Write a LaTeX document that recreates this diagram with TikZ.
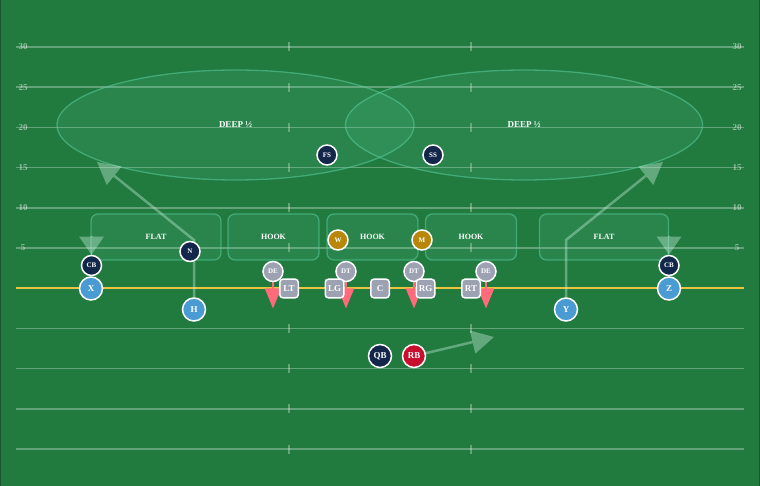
\documentclass[tikz,border=0pt]{standalone}
\usepackage{fontspec}
\setmainfont{Liberation Serif}
\usetikzlibrary{arrows.meta,shapes.geometric,positioning}

\definecolor{turf}{RGB}{33,122,62}
\definecolor{turfedge}{RGB}{24,88,44}
\definecolor{scrim}{RGB}{236,196,64}
\definecolor{mint}{RGB}{90,205,160}
\definecolor{navy}{RGB}{19,39,74}
\definecolor{offblue}{RGB}{74,155,212}
\definecolor{linegray}{RGB}{156,162,178}
\definecolor{gold}{RGB}{184,134,11}
\definecolor{rbred}{RGB}{200,16,46}
\definecolor{rushpink}{RGB}{255,107,122}
\definecolor{routemint}{RGB}{200,240,220}

\pgfdeclarelayer{field}
\pgfdeclarelayer{paths}
\pgfsetlayers{field,paths,main}

\tikzset{
    yardline/.style={white, opacity=0.3, line width=1.5pt},
    yardnum/.style={text=white, opacity=0.5, font=\bfseries\fontsize{9}{9}\selectfont, inner sep=0pt},
    zonebox/.style={draw=mint, draw opacity=0.55, fill=mint, fill opacity=0.14, line width=1.3pt,
        rounded corners=7pt, text=white, text opacity=1, font=\bfseries\fontsize{8}{8}\selectfont},
    deepzone/.style={zonebox, ellipse, rounded corners=0pt, font=\bfseries\fontsize{9}{9}\selectfont},
    defender/.style={circle, draw=white, line width=1.5pt, fill=navy, text=white, inner sep=0pt,
        minimum size=20pt, font=\bfseries\fontsize{7}{7}\selectfont},
    dline/.style={defender, fill=linegray},
    lb/.style={defender, fill=gold},
    skill/.style={defender, fill=offblue, minimum size=23pt, font=\bfseries\fontsize{9}{9}\selectfont},
    oline/.style={rectangle, rounded corners=3pt, draw=white, line width=1.5pt, fill=linegray, text=white,
        inner sep=0pt, minimum size=18.5pt, font=\bfseries\fontsize{9}{9}\selectfont},
    route/.style={routemint, line width=2.5pt, -{Triangle[length=22pt, width=23pt]}},
    rush/.style={rushpink, line width=2pt, -{Triangle[length=20pt, width=16pt]}},
}

\begin{document}
\begin{tikzpicture}[x=1pt, y=-1pt]
    \useasboundingbox (0,0) rectangle (760,486);

    \begin{pgfonlayer}{field}
    \fill[turf] (0,0) rectangle (760,486);
    \draw[turfedge, line width=2pt] (0,0) -- (0,486) (760,0) -- (760,486);

    % yard lines and hashes
    \foreach \i in {0,...,10} {
        \draw[yardline] (16,{47+40.2*\i}) -- (744,{47+40.2*\i});
        \draw[yardline] (289,{42.5+40.2*\i}) -- (289,{51.5+40.2*\i});
        \draw[yardline] (471,{42.5+40.2*\i}) -- (471,{51.5+40.2*\i});
    }
    \foreach \n [count=\i from 0] in {30,25,20,15,10,5} {
        \node[yardnum] (numL\n) at (23,{47+40.2*\i}) {\n};
        \node[yardnum] (numR\n) at (737,{47+40.2*\i}) {\n};
    }
    \draw[scrim, line width=2pt] (16,288.2) -- (744,288.2);

    % coverage zones
    \node[deepzone, minimum width=357, minimum height=110] (deepL) at (235.5,125) {DEEP ½};
    \node[deepzone, minimum width=357, minimum height=110] (deepR) at (524,125) {DEEP ½};
    \node[zonebox, minimum width=130, minimum height=46] (flatL) at (156,237) {FLAT};
    \node[zonebox, minimum width=91, minimum height=46] (hookL) at (273.5,237) {HOOK};
    \node[zonebox, minimum width=91, minimum height=46] (hookM) at (372.5,237) {HOOK};
    \node[zonebox, minimum width=91, minimum height=46] (hookR) at (471,237) {HOOK};
    \node[zonebox, minimum width=129, minimum height=46] (flatR) at (604,237) {FLAT};
    \end{pgfonlayer}

    % defense
    \node[defender] (fs) at (327,155) {FS};
    \node[defender] (ss) at (433,155) {SS};
    \node[lb] (w) at (338,240) {W};
    \node[lb] (m) at (422,240) {M};
    \node[defender] (n) at (190,251.5) {N};
    \node[defender] (cbL) at (91.5,265.5) {CB};
    \node[defender] (cbR) at (669,265.5) {CB};
    \node[dline] (deL) at (273,271.5) {DE};
    \node[dline] (dtL) at (346,271.5) {DT};
    \node[dline] (dtR) at (414,271.5) {DT};
    \node[dline] (deR) at (486,271.5) {DE};

    % offense
    \node[oline] (lt) at (289,288.5) {LT};
    \node[oline] (lg) at (334.5,288.5) {LG};
    \node[oline] (c) at (380,288.5) {C};
    \node[oline] (rg) at (425.5,288.5) {RG};
    \node[oline] (rt) at (471,288.5) {RT};
    \node[skill] (pX) at (91,288.5) {X};
    \node[skill] (pZ) at (669,288.5) {Z};
    \node[skill] (pH) at (194,309.5) {H};
    \node[skill] (pY) at (566,309.5) {Y};
    \node[defender, minimum size=23pt, font=\bfseries\fontsize{9}{9}\selectfont] (qb) at (380,356) {QB};
    \node[defender, fill=rbred, minimum size=23pt, font=\bfseries\fontsize{9}{9}\selectfont] (rb) at (414,356) {RB};

    \coordinate (hbreak) at (194,240);
    \coordinate (hend) at (97,162);
    \coordinate (ybreak) at (566,240);
    \coordinate (yend) at (663,162);
    \coordinate (rbend) at (494,337);
    \coordinate (cbLdrop) at (91.5,236);
    \coordinate (cbRdrop) at (669,236);

    \begin{pgfonlayer}{paths}
    \begin{scope}[transparency group, opacity=0.4]
    \draw[route] (pH) -- (hbreak) -- (hend);
    \draw[route] (pY) -- (ybreak) -- (yend);
    \draw[route] (rb) -- (rbend);
    \draw[route, -{Triangle[length=18pt, width=24pt]}] (cbLdrop) -- (cbL);
    \draw[route, -{Triangle[length=18pt, width=24pt]}] (cbRdrop) -- (cbR);
    \end{scope}

    \foreach \p in {deL,dtL,dtR,deR} {
        \draw[rush] (\p.center) -- ++(0,37);
    }
    \end{pgfonlayer}
\end{tikzpicture}
\end{document}
